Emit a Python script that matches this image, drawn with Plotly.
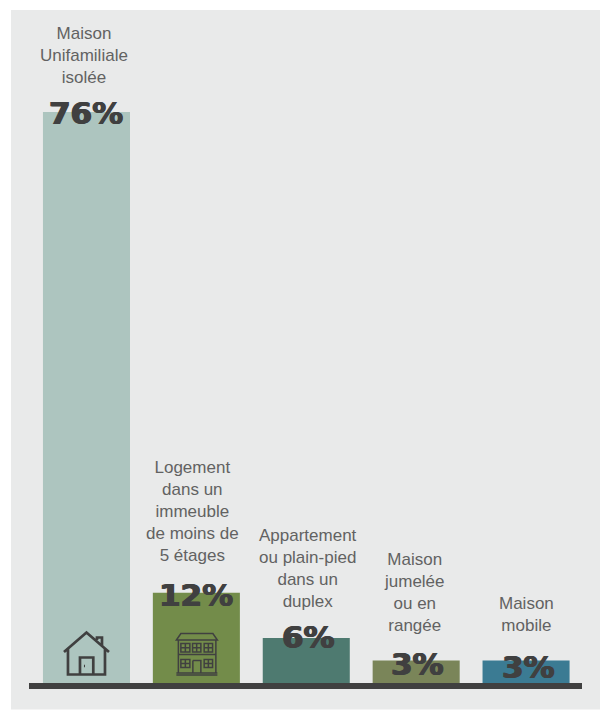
import plotly.graph_objects as go

# Dwelling types and their share of households (%)
categories = [
    "Maison<br>Unifamiliale<br>isolée",
    "Logement<br>dans un<br>immeuble<br>de moins de<br>5 étages",
    "Appartement<br>ou plain-pied<br>dans un<br>duplex",
    "Maison<br>jumelée<br>ou en<br>rangée",
    "Maison<br>mobile",
]
shares = [76, 12, 6, 3, 3]
share_labels = ["76%", "12%", "6%", "3%", "3%"]

bar_colors = ["#adc5bf", "#738c4a", "#4e7a70", "#7a8559", "#3b7b93"]
INK = "#404040"
TEXT = "#626262"
PANEL = "#e9eaea"

WIDTH, HEIGHT = 600, 711
LEFT, RIGHT, TOP, BASE = 29, 582, 112, 683.5
plot_w, plot_h = RIGHT - LEFT, BASE - TOP

# Pixel offsets of each caption and figure from the top centre of its bar
caption_gaps = [23, 26, 24.5, 23, 23]
caption_shifts = [-2.5, -4, 1.5, -2, 0]
figure_shifts = [-1, -2, 1, -4, -7]
figure_nudges = [0, 0, 2.5, 1, 2]

fig = go.Figure(
    go.Bar(
        x=categories,
        y=shares,
        marker=dict(color=bar_colors, line_width=0),
        width=0.792,
        hoverinfo="skip",
    )
)

# Light panel behind the chart, leaving a white edge at the top and left
fig.add_shape(
    type="rect", xref="paper", yref="paper", layer="below", line_width=0, fillcolor=PANEL,
    x0=(11 - LEFT) / plot_w, x1=(600 - LEFT) / plot_w,
    y0=(BASE - 710) / plot_h, y1=(BASE - 10) / plot_h,
)

for i, (cat, val, label) in enumerate(zip(categories, shares, share_labels)):
    fig.add_annotation(
        x=cat, y=val, text=label, showarrow=False, yanchor="middle",
        xshift=figure_nudges[i], yshift=figure_shifts[i],
        font=dict(
            family="DejaVu Sans", size=31, color=INK, weight="bold",
            shadow=f"0.7px 0 0 {INK}, -0.7px 0 0 {INK}",
        ),
    )
    fig.add_annotation(
        x=cat, y=val, text=cat, showarrow=False, yanchor="bottom", align="center",
        xshift=caption_shifts[i], yshift=caption_gaps[i],
        font=dict(family="Liberation Sans", size=17, color=TEXT),
    )

# Icons are line drawings anchored to the foot of their bars, in pixels
HOUSE = (
    "M-22.5,31 L0,50.5 L22.5,31 "
    "M-18.5,34 L-18.5,8.5 L18.5,8.5 L18.5,34 "
    "M-6.5,8.5 L-6.5,25.5 L6.8,25.5 L6.8,8.5 "
    "M10.5,43 L10.5,45.5 L15.5,45.5 L15.5,36.5 "
    "M-2.5,17 L-1.5,17"
)
BUILDING = (
    "M-15.5,49.5 L16.5,49.5 L21,43 L-20,43 Z "
    "M-18,43 L-18,10.5 M19.5,43 L19.5,10.5 "
    "M-20,10 L21,10 M-20,8 L21,8 "
    "M-18,28.5 L19.5,28.5 "
    "M-15.5,39.5 H-6.5 V31 H-15.5 Z M-11,39.5 V31 M-15.5,35.2 H-6.5 "
    "M-3.8,39.5 H4.5 V31 H-3.8 Z M0.3,39.5 V31 M-3.8,35.2 H4.5 "
    "M7.8,39.5 H16.2 V31 H7.8 Z M12,39.5 V31 M7.8,35.2 H16.2 "
    "M-15.5,23.5 H-6.5 V15.5 H-15.5 Z M-11,23.5 V15.5 M-15.5,19.5 H-6.5 "
    "M-3.5,22.5 H4.5 V10 M-3.5,22.5 V10 "
    "M7.8,23.5 H16.2 V15.5 H7.8 Z M12,23.5 V15.5 M7.8,19.5 H16.2"
)
for cat, path, weight in ((categories[0], HOUSE, 2.7), (categories[1], BUILDING, 1.5)):
    fig.add_shape(
        type="path", path=path, xsizemode="pixel", ysizemode="pixel",
        xref="x", yref="y", xanchor=cat, yanchor=0,
        line=dict(color=INK, width=weight),
    )

fig.update_layout(
    width=WIDTH, height=HEIGHT,
    margin=dict(l=LEFT, r=WIDTH - RIGHT, t=TOP, b=HEIGHT - BASE, pad=0),
    paper_bgcolor="white", plot_bgcolor="rgba(0,0,0,0)",
    showlegend=False,
    xaxis=dict(
        type="category", range=[-0.523, 4.509], showticklabels=False, ticks="",
        showgrid=False, zeroline=False, showline=True, linecolor=INK, linewidth=6,
    ),
    yaxis=dict(range=[0, 76], visible=False),
)

fig.write_html("out.html", config=dict(displayModeBar=False))
